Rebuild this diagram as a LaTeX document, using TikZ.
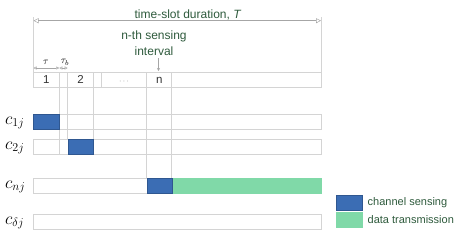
\documentclass[tikz,border=0pt]{standalone}
\usepackage{fontspec}
\setmainfont{Liberation Sans}
\usetikzlibrary{arrows.meta}
\definecolor{gline}{HTML}{D4D4D4}
\definecolor{senseblue}{HTML}{3B6DB4}
\definecolor{datagreen}{HTML}{80D9A8}
\definecolor{txtgreen}{HTML}{2E5A3C}
\tikzset{
  rowbox/.style={draw=gline, line width=0.8pt},
  sensebox/.style={draw=senseblue!80!black, line width=0.4pt, fill=senseblue},
  databox/.style={draw=datagreen, line width=0.4pt, fill=datagreen},
  guide/.style={draw=gline, line width=0.6pt},
  lbl/.style={text=txtgreen, font=\fontsize{12}{13}\selectfont, inner sep=0pt},
  numlbl/.style={text=black!80, font=\fontsize{11.5}{12}\selectfont, inner sep=0pt, anchor=base},
  leglbl/.style={text=txtgreen, font=\fontsize{11}{12}\selectfont, inner sep=0pt, anchor=base west},
  clbl/.style={inner sep=0pt, anchor=west, font=\fontsize{17}{18}\selectfont},
  dim/.style={draw=gray!70, line width=0.5pt, {Triangle[open,length=5pt,width=5pt]}-{Triangle[open,length=5pt,width=5pt]}},
  smalldim/.style={draw=gray!70, line width=0.5pt, {Triangle[open,length=3pt,width=3pt]}-{Triangle[open,length=3pt,width=3pt]}}
}
\begin{document}
\begin{tikzpicture}[x=1pt,y=-1pt]
\useasboundingbox (0,0) rectangle (463,242);
% frame top line and side lines
\coordinate (tl) at (33.5,20.7);
\coordinate (tr) at (321,20.7);
\draw[guide] (33.5,17) -- (33.5,87);
\draw[guide] (321,17) -- (321,87);
\draw[dim] (tl) -- (tr);
\node[lbl, anchor=base] (tsd) at (188,18) {time-slot duration, \textit{T}};
% slot row
\draw[guide] (33.5,72) rectangle (321,87);
% separators and guides
\draw[guide] (59.3,72) -- (59.3,154.3);
\draw[guide] (67.7,72) -- (67.7,139.3);
\draw[guide] (93.3,72) -- (93.3,139.3);
\draw[guide] (101.5,72) -- (101.5,87);
\draw[guide] (146.7,72) -- (146.7,178.3);
\draw[guide] (171.7,72) -- (171.7,178.3);
\node[numlbl] (s1) at (46.4,83.5) {1};
\node[numlbl] (s2) at (80.5,83.5) {2};
\node[numlbl, text=black!55, font=\fontsize{8}{9}\selectfont] (sd) at (124,83.5) {$\cdots$};
\node[numlbl] (sn) at (159.2,83.5) {n};
% tau arrows
\coordinate (ta) at (33.5,68);
\coordinate (tb) at (59.3,68);
\coordinate (tc) at (67.7,68);
\draw[smalldim] (ta) -- (tb);
\draw[smalldim] (tb) -- (tc);
\node[inner sep=0pt, font=\fontsize{10}{11}\selectfont] (tau) at (46,62) {$\tau$};
\node[inner sep=0pt, font=\fontsize{10}{11}\selectfont] (taub) at (65,62.5) {$\tau_b$};
% n-th sensing interval
\node[lbl, anchor=base] (nth) at (154,39.5) {n-th sensing};
\node[lbl, anchor=base] (intv) at (154,55) {interval};
\coordinate (narr) at (158.5,71);
\draw[gray!70, line width=0.5pt, -{Stealth[length=3pt,width=3pt]}] (158.5,58) -- (narr);
% rows
\draw[rowbox] (33.5,114.3) rectangle (321,129.3);
\draw[sensebox] (33.5,114.3) rectangle (59.3,129.3);
\draw[rowbox] (33.5,139.3) rectangle (321,154.3);
\draw[sensebox] (67.7,139.3) rectangle (93.3,154.3);
\draw[rowbox] (33.5,178.3) rectangle (321,193.3);
\draw[databox] (171.7,178.3) rectangle (321,193.3);
\draw[sensebox] (146.7,178.3) rectangle (171.7,193.3);
\draw[rowbox] (33.5,214.3) rectangle (321,229.3);
% row labels
\node[clbl] (c1) at (5,123) {$c_{1j}$};
\node[clbl] (c2) at (5,148) {$c_{2j}$};
\node[clbl] (cn) at (5,187) {$c_{nj}$};
\node[clbl] (cd) at (5,223) {$c_{\delta j}$};
% legend
\draw[sensebox] (336,195) rectangle (361.7,210);
\draw[databox] (336,212.3) rectangle (361.7,227.3);
\node[leglbl] (lg1) at (367.5,205.7) {channel sensing};
\node[leglbl] (lg2) at (367.5,223.3) {data transmission};
\end{tikzpicture}
\end{document}
